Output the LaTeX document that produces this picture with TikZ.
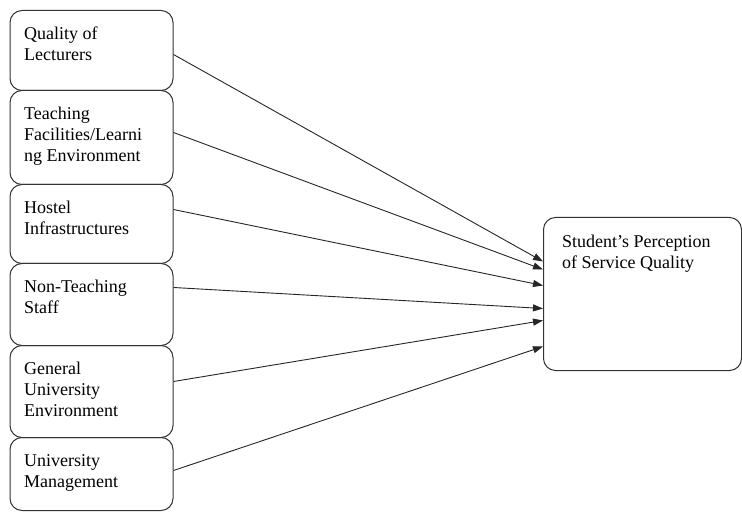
\documentclass[tikz,border=0pt]{standalone}
\usepackage{fontspec}
\setmainfont{Liberation Serif}
\usetikzlibrary{arrows.meta,calc}
\begin{document}
\begin{tikzpicture}[x=1pt,y=-1pt,
  box/.style={draw=black!80,line width=1pt,rounded corners=12pt,minimum width=163pt,inner sep=0pt,anchor=north west},
  lbl/.style={anchor=north west,inner sep=0pt,align=left,font=\fontsize{18}{21}\selectfont},
  conn/.style={draw=black!85,line width=0.9pt,-{Triangle[length=10pt,width=7pt]}}]
\useasboundingbox (0,0) rectangle (742,513);
% left boxes
\node[box,minimum height=80pt] (b1) at (9.5,10) {};
\node[box,minimum height=94pt] (b2) at (9.5,90) {};
\node[box,minimum height=79pt] (b3) at (9.5,184) {};
\node[box,minimum height=82pt] (b4) at (9.5,263) {};
\node[box,minimum height=92pt] (b5) at (9.5,345) {};
\node[box,minimum height=73pt] (b6) at (9.5,437) {};
% right box
\node[box,minimum width=198pt,minimum height=153pt] (out) at (543,217) {};
% labels
\node[lbl] (t1) at ($(b1.north west)+(14.5,14.3)$) {\strut Quality of\\Lecturers};
\node[lbl] (t2) at ($(b2.north west)+(14.5,14.3)$) {\strut Teaching\\Facilities/Learni\\ng Environment};
\node[lbl] (t3) at ($(b3.north west)+(14.5,14.3)$) {\strut Hostel\\Infrastructures};
\node[lbl] (t4) at ($(b4.north west)+(14.5,14.3)$) {\strut Non-Teaching\\Staff};
\node[lbl] (t5) at ($(b5.north west)+(14.5,14.3)$) {\strut General\\University\\Environment};
\node[lbl] (t6) at ($(b6.north west)+(14.5,14.3)$) {\strut University\\Management};
\node[lbl] (t7) at ($(out.north west)+(19,15.3)$) {\strut Student’s Perception\\of Service Quality};
% connectors
\draw[conn] ([yshift=-4pt]b1.east) -- ([yshift=32.5pt]out.west);
\draw[conn] ([yshift=5pt]b2.east) -- ([yshift=24.5pt]out.west);
\draw[conn] ([yshift=14.5pt]b3.east) -- ([yshift=8.5pt]out.west);
\draw[conn] ([yshift=17pt]b4.east) -- ([yshift=-14.5pt]out.west);
\draw[conn] ([yshift=10pt]b5.east) -- ([yshift=-26.5pt]out.west);
\draw[conn] ([yshift=3.5pt]b6.east) -- ([yshift=-52.5pt]out.west);
\end{tikzpicture}
\end{document}
